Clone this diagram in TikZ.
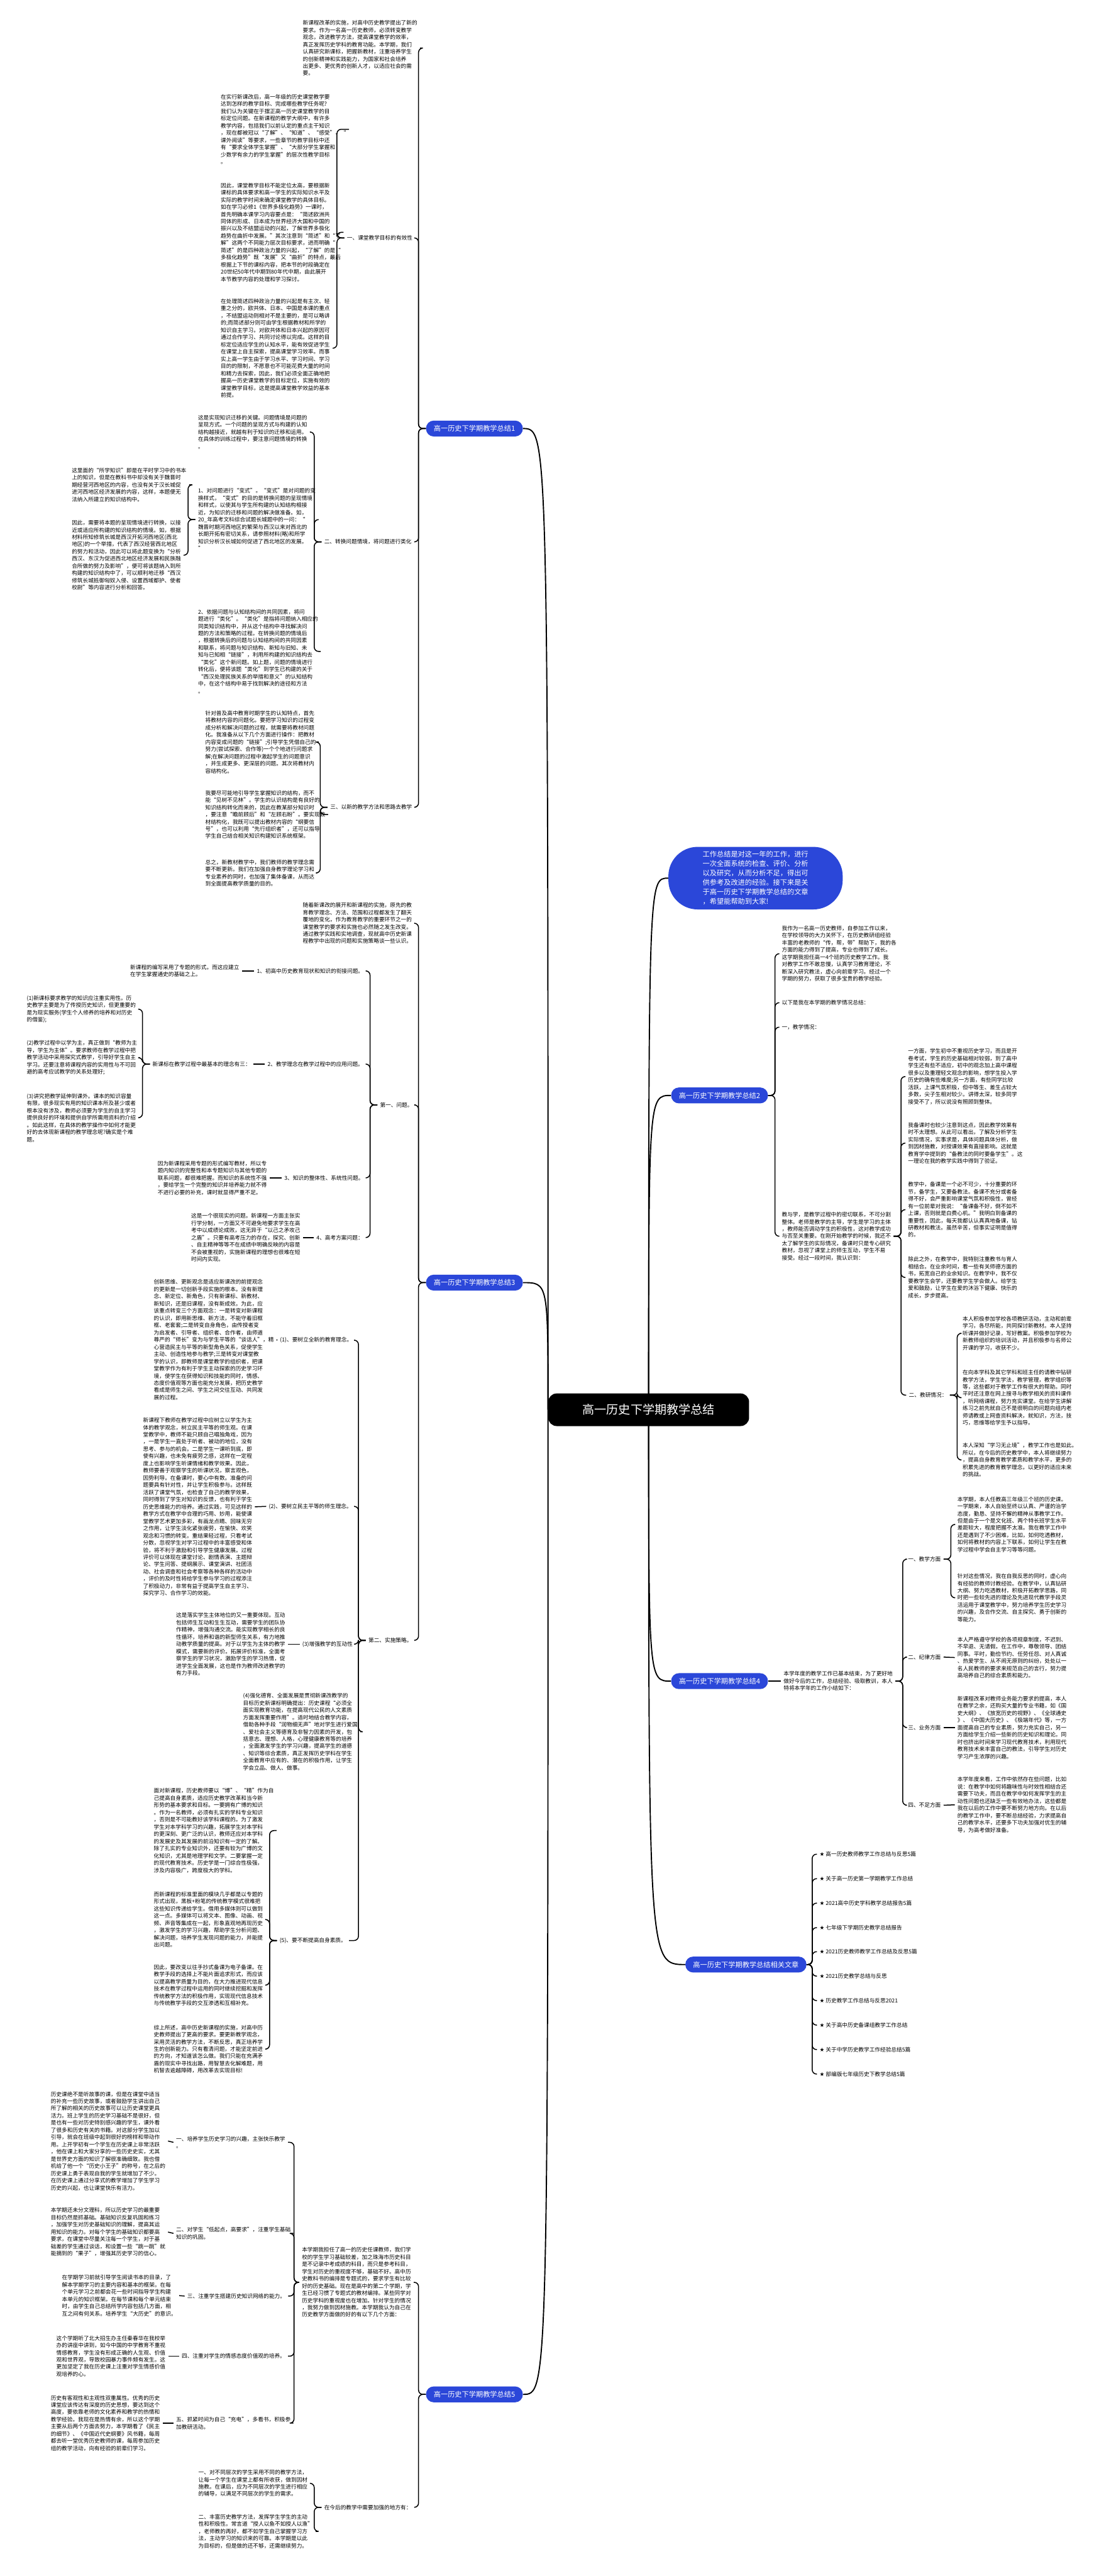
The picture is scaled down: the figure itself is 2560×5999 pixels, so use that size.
\documentclass[tikz,border=0pt]{standalone}
\usepackage{fontspec}
\newfontfamily\cjk{Noto Sans CJK SC}
\newfontfamily\starfont{DejaVu Sans}
\usetikzlibrary{backgrounds}
\definecolor{mapblue}{HTML}{2B47D9}
\newcommand{\starmark}{{\starfont ★}\ }

\begin{document}
\begin{tikzpicture}[x=0.5pt, y=-0.5pt,
  txt/.style={anchor=west, align=left, inner xsep=3pt, inner ysep=1pt, font=\cjk\fontsize{6.35}{8.4}\selectfont},
  branch/.style={anchor=west, fill=mapblue, text=white, rounded corners=9pt, inner xsep=9pt, minimum height=18.5pt, font=\cjk\fontsize{8.2}{10}\selectfont},
  root/.style={fill=black, text=white, rounded corners=10pt, inner xsep=40pt, minimum height=38pt, font=\cjk\fontsize{14}{16}\selectfont},
  intro/.style={fill=mapblue, text=white, rounded corners=34pt, inner xsep=40pt, inner ysep=5pt, align=left, font=\cjk\fontsize{8.2}{11}\selectfont},
  link/.style={line width=1.1pt, rounded corners=5pt},
  trunk/.style={line width=1.4pt}
]
\useasboundingbox (0,0) rectangle (2560,5999);

\node[root] (root) at (1511,3283) {高一历史下学期教学总结};
\node[intro] (intro) at (1760,2045) {工作总结是对这一年的工作，进行\\一次全面系统的检查、评价、分析\\以及研究，从而分析不足，得出可\\供参考及改进的经验。接下来是关\\于高一历史下学期教学总结的文章\\，希望能帮助到大家!};
\node[branch] (s1) at (992,998) {高一历史下学期教学总结1};
\node[branch] (s2) at (1563,2551) {高一历史下学期教学总结2};
\node[branch] (s3) at (992,2987) {高一历史下学期教学总结3};
\node[branch] (s4) at (1563,3915) {高一历史下学期教学总结4};
\node[branch] (s5) at (992,5576) {高一历史下学期教学总结5};
\node[branch, anchor=east] (rel) at (1879,4575) {高一历史下学期教学总结相关文章};

\node[txt] (s1i) at (699,112) {新课程改革的实施，对高中历史教学提出了新的\\要求。作为一名高一历史教师，必须转变教学\\观念，改进教学方法，提高课堂教学的效率，\\真正发挥历史学科的教育功能。本学期，我们\\认真研究新课标，把握新教材，注重培养学生\\的创新精神和实践能力，为国家和社会培养\\出更多、更优秀的创新人才，以适应社会的需\\要。};
\node[txt] (s1a) at (802,554) {一、课堂教学目标的有效性};
\node[txt] (s1a1) at (508,301) {在实行新课改后，高一年级的历史课堂教学要\\达到怎样的教学目标、完成哪些教学任务呢?\\我们认为关键在于摆正高一历史课堂教学的目\\标定位问题。在新课程的教学大纲中，有许多\\教学内容，包括我们以前认定的重点主干知识\\，现在都被冠以“了解”、“知道”、“感受”、“\\课外阅读”等要求，一些章节的教学目标中还\\有“要求全体学生掌握”、“大部分学生掌握和\\少数学有余力的学生掌握”的层次性教学目标\\。};
\node[txt] (s1a2) at (508,541) {因此，课堂教学目标不能定位太高，要根据新\\课标的具体要求和高一学生的实际知识水平及\\实际的教学时间来确定课堂教学的具体目标。\\如在学习必修1《世界多极化趋势》一课时，\\首先明确本课学习内容要点是：“简述欧洲共\\同体的形成、日本成为世界经济大国和中国的\\振兴以及不结盟运动的兴起，了解世界多极化\\趋势在曲折中发展。”其次注意到“简述”和“了\\解”这两个不同能力层次目标要求，进而明确“\\简述”的是四种政治力量的兴起，“了解”的是“\\多极化趋势”既“发展”又“曲折”的特点，最后\\根据上下节的课标内容，把本节的时段确定在\\20世纪50年代中期到80年代中期，由此展开\\本节教学内容的处理和学习探讨。};
\node[txt] (s1a3) at (508,811) {在处理简述四种政治力量的兴起是有主次、轻\\重之分的，欧共体、日本、中国是本课的重点\\，不结盟运动则相对不是主要的，是可以略讲\\的;而简述部分则可由学生根据教材和所学的\\知识自主学习。对欧共体和日本兴起的原因可\\通过合作学习、共同讨论得以完成。这样的目\\标定位适应学生的认知水平，能有效促进学生\\在课堂上自主探索，提高课堂学习效率。而事\\实上高一学生由于学习水平、学习时间、学习\\目的的限制，不愿意也不可能花费大量的时间\\和精力去探索，因此，我们必须全面正确地把\\握高一历史课堂教学的目标定位，实施有效的\\课堂教学目标，这是提高课堂教学效益的基本\\前提。};
\node[txt] (s1b) at (749,1262) {二、转换问题情境，将问题进行类化};
\node[txt] (s1b1) at (455,1006) {这是实现知识迁移的关键。问题情境是问题的\\呈现方式。一个问题的呈现方式与构建的认知\\结构越接近，就越有利于知识的迁移和运用。\\在具体的训练过程中，要注意问题情境的转换\\。};
\node[txt] (s1b2) at (455,1210) {1、对问题进行“变式”。“变式”是对问题的变\\换样式，“变式”的目的是转换问题的呈现情境\\和样式，以使其与学生所构建的认知结构相接\\近，为知识的迁移和问题的解决做准备。如，\\20\_年高考文科综合试题长城题中的一问：“\\魏晋时期河西地区的繁荣与西汉以来对西北的\\长期开拓有密切关系，请参照材料(略)和所学\\知识分析汉长城如何促进了西北地区的发展。\\”};
\node[txt] (s1b2a) at (161,1129) {这里面的“所学知识”即是在平时学习中的书本\\上的知识，但是在教科书中却没有关于魏晋时\\期经营河西地区的内容，也没有关于汉长城促\\进河西地区经济发展的内容，这样，本题便无\\法纳入所建立的知识结构中。};
\node[txt] (s1b2b) at (161,1293) {因此，需要将本题的呈现情境进行转换，以接\\近或适应所构建的知识结构的情境。如，根据\\材料所知修筑长城是西汉开拓河西地区(西北\\地区)的一个举措，代表了西汉经营西北地区\\的努力和活动，因此可以将此题变换为“分析\\西汉、东汉为促进西北地区经济发展和民族融\\合所做的努力及影响”，便可将该题纳入到所\\构建的知识结构中了，可以顺利地迁移“西汉\\修筑长城抵御匈奴入侵、设置西域都护、使者\\校尉”等内容进行分析和回答。};
\node[txt] (s1b3) at (455,1517) {2、依据问题与认知结构间的共同因素，将问\\题进行“类化”。“类化”是指将问题纳入相应的\\同类知识结构中，并从这个结构中寻找解决问\\题的方法和策略的过程。在转换问题的情境后\\，根据转换后的问题与认知结构间的共同因素\\和联系，将问题与知识结构、新知与旧知、未\\知与已知相“链接”，利用所构建的知识结构去\\“类化”这个新问题。如上题，问题的情境进行\\转化后，便将该题“类化”到学生已构建的关于\\“西汉处理民族关系的举措和意义”的认知结构\\中，在这个结构中易于找到解决的途径和方法\\。};
\node[txt] (s1c) at (763,1880) {三、以新的教学方法和思路去教学};
\node[txt] (s1c1) at (472,1728) {针对普及高中教育时期学生的认知特点，首先\\将教材内容的问题化。要把学习知识的过程变\\成分析和解决问题的过程，就需要将教材问题\\化。我准备从以下几个方面进行操作：把教材\\内容变成问题的“链接”;引导学生凭借自己的\\努力(尝试探索、合作等)一个个地进行问题求\\解;在解决问题的过程中激起学生的问题意识\\，并生成更多、更深层的问题。其次将教材内\\容结构化。};
\node[txt] (s1c2) at (472,1897) {我要尽可能地引导学生掌握知识的结构，而不\\能“见树不见林”。学生的认识结构是有良好的\\知识结构转化而来的，因此在教某部分知识时\\，要注意“瞻前顾后”和“左顾右盼”。要实现教\\材结构化，我既可以提出教材内容的“纲要信\\号”，也可以利用“先行组织者”，还可以指导\\学生自己结合相关知识构建知识系统框架。};
\node[txt] (s1c3) at (472,2033) {总之，新教材教学中，我们教师的教学理念需\\要不断更新。我们在加强自身教学理论学习和\\专业素养的同时，也加强了集体备课，从而达\\到全面提高教学质量的目的。};

\node[txt] (s3i) at (699,2150) {随着新课改的展开和新课程的实施，原先的教\\育教学理念、方法、范围和过程都发生了翻天\\覆地的变化，作为教育教学的重要环节之一的\\课堂教学的要求和实施也必然随之发生改变。\\通过教学实践和实地调查，现就高中历史新课\\程教学中出现的问题和实施策略谈一些认识。};
\node[txt] (s3a) at (879,2573) {第一、问题。};
\node[txt] (s3a1) at (592,2261) {1、初高中历史教育现状和知识的衔接问题。};
\node[txt] (s3a1a) at (297,2261) {新课程的编写采用了专题的形式。而这应建立\\在学生掌握通史的基础之上。};
\node[txt] (s3a2) at (617,2478) {2、教学理念在教学过程中的应用问题。};
\node[txt] (s3a2a) at (349,2478) {新课标在教学过程中最基本的理念有三：};
\node[txt] (s3a2a1) at (56,2350) {(1)新课标要求教学的知识应注重实用性。历\\史教学主要是为了传授历史知识，但更重要的\\是为现实服务(学生个人修养的培养和对历史\\的借鉴);};
\node[txt] (s3a2a2) at (56,2463) {(2)教学过程中以学为主，真正做到“教师为主\\导，学生为主体”。要求教师在教学过程中把\\教学活动中采用探究式教学，引导好学生自主\\学习。还要注意将课程内容的实用性与不可回\\避的高考应试教学的关系处理好;};
\node[txt] (s3a2a3) at (56,2603) {(3)讲究把教学延伸到课外。课本的知识容量\\有限，很多现实有用的知识课本所及甚少或者\\根本没有涉及，教师必须要为学生的自主学习\\提供良好的环境和提供自学所需用资料的介绍\\。如此这样，在具体的教学操作中如何才能更\\好的去体现新课程的教学理念呢?确实是个难\\题。};
\node[txt] (s3a3) at (656,2743) {3、知识的整体性、系统性问题。};
\node[txt] (s3a3a) at (361,2743) {因为新课程采用专题的形式编写教材，所以专\\题内知识的完整性和本专题知识与其他专题的\\联系问题，都很难把握。而知识的系统性不强\\，要给学生一个完整的知识并培养能力就不得\\不进行必要的补充，课时就显得严重不足。};
\node[txt] (s3a4) at (731,2882) {4、高考方案问题：};
\node[txt] (s3a4a) at (439,2882) {这是一个很现实的问题。新课程一方面主张实\\行学分制，一方面又不可避免地要求学生在高\\考中以成绩论成败，这无异于“以己之矛攻己\\之盾”。只要有高考压力的存在，探究、创新\\、自主精神等等不在成绩中明确反映的内容是\\不会被重视的，实施新课程的理想也很难在短\\时间内实现。};
\node[txt] (s3b) at (852,3820) {第二、实施策略。};
\node[txt] (s3b1) at (646,3121) {(1)、要树立全新的教育理念。};
\node[txt] (s3b1a) at (352,3120) {创新思维、更新观念是适应新课改的前提观念\\的更新是一切创新手段实施的根本。没有新理\\念、新定位、新角色，只有新课标、新教材、\\新知识，还是旧课程，没有新成效。为此，应\\该重点转变三个方面观念：一是转变对新课程\\的认识，即用新思维、新方法，不能守着旧框\\框、老套套;二是转变自身角色，由传授者变\\为启发者、引导者、组织者、合作者，由师道\\尊严的“师长”变为与学生平等的“谈话人”，精\\心营造民主与平等的新型角色关系，促使学生\\主动、创造性地参与教学;三是转变对课堂教\\学的认识，即教师是课堂教学的组织者，把课\\堂教学作为有利于学生主动探索的历史学习环\\境，使学生在获得知识和技能的同时，情感、\\态度价值观等方面也能充分发展，把历史教学\\看成是师生之间、学生之间交往互动、共同发\\展的过程。};
\node[txt] (s3b2) at (620,3508) {(2)、要树立民主平等的师生理念。};
\node[txt] (s3b2a) at (327,3509) {新课程下教师在教学过程中应树立以学生为主\\体的教学观念，树立民主平等的师生观。在课\\堂教学中，教师不能只顾自己唱独角戏，因为\\，一是学生一直处于听者、被动的地位，没有\\思考、参与的机会。二是学生一课听到底，即\\使有兴趣，也未免有疲劳之感，这样在一定程\\度上也影响学生听课情绪和教学效果。因此，\\教师要善于观察学生的听课状况，察言观色，\\因势利导。在备课时，要心中有数。准备的问\\题要具有针对性，并让学生积极参与。这样既\\活跃了课堂气氛，也检查了自己的教学效果，\\同时得到了学生对知识的反馈，也有利于学生\\历史思维能力的培养。通过实践，可见这样的\\教学方式在教学中合理的巧用、妙用，能使课\\堂教学艺术更加多彩，有画龙点睛、回味无穷\\之作用，让学生淡化紧张疲劳，在愉快、欢笑\\观念和习惯的转变。重结果轻过程，只看考试\\分数，忽视学生对学习过程中的丰富感受和体\\验，将不利于激励和引导学生健康发展。过程\\评价可以体现在课堂讨论、剧情表演、主题辩\\论、学生问答、提纲展示、课堂演讲、社团活\\动、社会调查和社会考察等各种各样的活动中\\，评价的及时性将给学生参与学习的过程添注\\了积极动力，非常有益于提高学生自主学习、\\探究学习、合作学习的效能。};
\node[txt] (s3b3) at (698,3829) {(3)增强教学的互动性};
\node[txt] (s3b3a) at (404,3829) {这是落实学生主体地位的又一重要体现。互动\\包括师生互动和生生互动，需要学生的团队协\\作精神，增强沟通交流。能实现教学相长的良\\性循环，培养和谐的新型师生关系，有力地推\\动教学质量的提高。对于以学生为主体的教学\\模式，需要新的评价。拓展评价标准，全面考\\察学生的学习状况，激励学生的学习热情，促\\进学生全面发展，这也是作为教师改进教学的\\有力手段。};
\node[txt] (s3b4) at (560,4033) {(4)强化德育、全面发展是贯彻新课改教学的\\目标历史新课标明确提出：历史课程“必须全\\面实现教育功能，在提高现代公民的人文素质\\方面发挥重要作用”。适时地结合教学内容，\\借助各种手段“润物细无声”地对学生进行爱国\\、爱社会主义等德育及非智力因素的开发，包\\括意志、理想、人格，心理健康教育等的培养\\，全面激发学生的学习兴趣，提高学生的道德\\、知识等综合素质，真正发挥历史学科在学生\\全面教育中应有的、潜在的积极作用，让学生\\学会立品、做人、做事。};
\node[txt] (s3b5) at (645,4519) {(5)、要不断提高自身素质。};
\node[txt] (s3b5a) at (352,4263) {面对新课程，历史教师要以“博”、“精”作为自\\己提高自身素质，适应历史教学改革和当今新\\形势的基本要求和目标。一要拥有广博的知识\\。作为一名教师，必须有扎实的学科专业知识\\，否则是不可能教好该学科课程的。为了激发\\学生对本学科学习的兴趣，拓展学生对本学科\\的更深刻、更广泛的认识，教师还应对本学科\\的发展史及其发展的前沿知识有一定的了解。\\除了扎实的专业知识外，还要有较为广博的文\\化知识，尤其是地理学和文学。二要掌握一定\\的现代教育技术。历史学是一门综合性极强，\\涉及内容极广，跨度极大的学科。};
\node[txt] (s3b5b) at (352,4470) {而新课程的标准里面的模块几乎都是以专题的\\形式出现，黑板+粉笔的传统教学模式很难把\\这些知识传递给学生。借用多媒体则可以做到\\这一点。多媒体可以将文本、图像、动画、视\\频、声音等集成在一起，形象直观地再现历史\\，激发学生的学习兴趣，帮助学生分析问题、\\解决问题，培养学生发现问题的能力，并能提\\出问题。};
\node[txt] (s3b5c) at (352,4623) {因此，要改变以往手抄式备课为电子备课。在\\教学手段的选择上不能片面追求形式，而应该\\以提高教学质量为目的，在大力推进现代信息\\技术在教学过程中运用的同时继续挖掘和发挥\\传统教学方法的积极作用，实现现代信息技术\\与传统教学手段的交互渗透和互相补充。};
\node[txt] (s3b5d) at (352,4772) {综上所述，高中历史新课程的实施，对高中历\\史教师提出了更高的要求。要更新教学观念，\\采用灵活的教学方法，不断反思，真正培养学\\生的创新能力。只有看清问题，才能坚定前进\\的方向，才知道该怎么做。我们只能在充满矛\\盾的现实中寻找出路，用智慧去化解难题，用\\机智去逾越障碍，用改革去实现目标!};

\node[txt] (s5a) at (697,5315) {本学期我担任了高一的历史任课教师，我们学\\校的学生学习基础较差，加之珠海市历史科目\\是不记录中考成绩的科目，而只是参考科目，\\学生对历史的重视度不够，基础不好。高中历\\史教科书的编排是专题式的，要求学生有比较\\好的历史基础。现在是高中的第二个学期，学\\生已经习惯了专题式的教材编排。某些同学对\\历史学科的重视度也在增加。针对学生的情况\\，我努力做到因材施教。本学期我认为自己在\\历史教学方面做的好的有以下几个方面：};
\node[txt] (s5a1) at (404,4989) {一、培养学生历史学习的兴趣，主张快乐教学\\。};
\node[txt] (t5a1) at (112,4986) {历史课绝不是听故事的课，但是在课堂中适当\\的补充一些历史故事，或者鼓励学生讲出自己\\所了解的相关的历史故事可以让历史课堂更具\\活力。班上学生的历史学习基础不是很好，但\\是也有一些对历史特别感兴趣的学生，课外看\\了很多和历史有关的书籍。对这部分学生加以\\引导，就会在班级中起到很好的榜样和带动作\\用。上开学初有一个学生在历史课上非常活跃\\，他在课上和大家分享的一些历史史实，尤其\\是世界史方面的知识了解很准确细致。我也借\\机给了他一个“历史小王子”的称号，在之后的\\历史课上勇于表现自我的学生就增加了不少。\\在历史课上通过分享式的教学增加了学生学习\\历史的兴起，也让课堂快乐有活力。};
\node[txt] (s5a2) at (404,5201) {二、对学生“低起点，高要求”，注重学生基础\\知识的巩固。};
\node[txt] (t5a2) at (112,5198) {本学期还未分文理科，所以历史学习的最重要\\目标仍然是抓基础。基础知识反复巩固和练习\\，加强学生对历史基础知识的理解，提高其运\\用知识的能力。对每个学生的基础知识都要高\\要求，在课堂中尽量关注每一个学生，对于基\\础差的学生通过谈话，和设置一些“跳一跳”就\\能摘到的“果子”，增强其历史学习的信心。};
\node[txt] (s5a3) at (430,5347) {三、注重学生搭建历史知识网络的能力。};
\node[txt] (t5a3) at (138,5346) {在学期学习前就引导学生阅读书本的目录，了\\解本学期学习的主要内容和基本的框架。在每\\个单元学习之前都会花一些时间指导学生构建\\本单元的知识框架。在每节课和每个单元结束\\时，由学生自己总结所学内容包括几方面，相\\互之间有何关系。培养学生“大历史”的意识。};
\node[txt] (s5a4) at (417,5487) {四、注重对学生的情感态度价值观的培养。};
\node[txt] (t5a4) at (125,5487) {这个学期听了北大招生办主任秦春华在我校举\\办的讲座中讲到，如今中国的中学教育不重视\\情感教育，学生没有形成正确的人生观、价值\\观和世界观，导致校园暴力事件频有发生。这\\更加坚定了我在历史课上注重对学生情感价值\\观培养的心。};
\node[txt] (s5a5) at (404,5643) {五、抓紧时间为自己“充电”，多看书，积极参\\加教研活动。};
\node[txt] (t5a5) at (112,5643) {历史有客观性和主观性双重属性。优秀的历史\\课堂应该传达有深度的历史思想，要达到这个\\高度，要依靠老师的文化素养和教学的热情和\\教学经验。我现在是热情有余，所以这个学期\\主要从后两个方面去努力，本学期看了《民主\\的细节》、《中国近代史纲要》风书籍，每周\\都去听一堂优秀历史教师的课，每周参加历史\\组的教学活动，向有经验的前辈们学习。};
\node[txt] (s5b) at (749,5839) {在今后的教学中需要加强的地方有：};
\node[txt] (s5b1) at (456,5783) {一、对不同层次的学生采用不同的教学方法，\\让每一个学生在课堂上都有所收获，做到因材\\施教。在课后，应为不同层次的学生进行相应\\的辅导，以满足不同层次的学生的需求。};
\node[txt] (s5b2) at (456,5895) {二、丰富历史教学方法，发挥学生学生的主动\\性和积极性。常言道“授人以鱼不如授人以渔”\\，老师教的再好，都不如学生自己掌握学习方\\法，主动学习的知识来的可靠。本学期是以此\\为目标的，但是做的还不够，还需继续努力。};

\node[txt] (s2a) at (1815,2221) {我作为一名高一历史教师，自参加工作以来，\\在学校领导的大力关怀下，在历史教研组经验\\丰富的老教师的“传，帮，带”帮助下，我的各\\方面的能力得到了提高，专业也得到了成长。\\这学期我担任高一4个班的历史教学工作。我\\对教学工作不敢怠慢，认真学习教育理论，不\\断深入研究教法，虚心向前辈学习。经过一个\\学期的努力，获取了很多宝贵的教学经验。};
\node[txt] (s2b) at (1815,2335) {以下是我在本学期的教学情况总结：};
\node[txt] (s2c) at (1815,2392) {一，教学情况：};
\node[txt] (s2d) at (1815,2879) {教与学，是教学过程中的密切联系，不可分割\\整体。老师是教学的主导，学生是学习的主体\\，教师能否调动学生的积极性，这对教学成功\\与否至关重要。在刚开始教学的时候，我还不\\太了解学生的实际情况，备课时只是专心研究\\教材，忽视了课堂上的师生互动，学生不易\\接受。经过一段时间，我认识到：};
\node[txt] (s2d1) at (2109,2507) {一方面，学生初中不重视历史学习，而且是开\\卷考试，学生的历史基础相对较弱，到了高中\\学生还有些不适应，初中的观念加上高中课程\\很多以及重理轻文观念的影响，想学生投入学\\历史的确有些难度;另一方面，有些同学比较\\活跃，上课气氛积极，但中等生、差生占较大\\多数，尖子生相对较少。讲得太深，较多同学\\接受不了，所以说没有照顾到整体。};
\node[txt] (s2d2) at (2109,2662) {我备课时也较少注意到这点，因此教学效果有\\时不太理想。从此可以看出，了解及分析学生\\实际情况，实事求是，具体问题具体分析，做\\到因材施教，对授课效果有直接影响。这就是\\教育学中提到的“备教法的同时要备学生”。这\\一理论在我的教学实践中得到了验证。};
\node[txt] (s2d3) at (2109,2817) {教学中，备课是一个必不可少，十分重要的环\\节，备学生，又要备教法。备课不充分或者备\\得不好，会严重影响课堂气氛和积极性，曾经\\有一位前辈对我说：“备课备不好，倒不如不\\上课，否则就是白费心机。”我明白到备课的\\重要性，因此，每天我都认认真真地备课，钻\\研教材和教法。虽然辛苦，但事实证明是值得\\的。};
\node[txt] (s2d4) at (2109,2975) {除此之外，在教学中，我特别注重教书与育人\\相结合。在业余时间，看一些有关师德方面的\\书，拓宽自己的业余知识。在教学中，我不仅\\要教学生会学，还要教学生学会做人。给学生\\爱和鼓励，让学生在爱的沐浴下健康、快乐的\\成长，步步提高。};
\node[txt] (s2d5) at (2111,3249) {二、教研情况：};
\node[txt] (s2d5a) at (2236,3105) {本人积极参加学校各项教研活动，主动和前辈\\学习，各尽所能，共同探讨新教材。本人坚持\\听课并做好记录，写好教案。积极参加学校为\\新教师组织的培训活动，并且积极参与名师公\\开课的学习，收获不少。};
\node[txt] (s2d5b) at (2236,3255) {在向本学科及其它学科和班主任的请教中钻研\\教学方法，学生学法，教学管理，教学组织等\\等，这些都对于教学工作有很大的帮助。同时\\平时还注意在网上搜寻与教学相关的资料课件\\，听网络课程，努力充实课堂。在给学生讲解\\练习之前先就自己不是很明白的问题向组内老\\师请教或上网查资料解决，就知识，方法，技\\巧，思维等给学生予以指导。};
\node[txt] (s2d5c) at (2236,3400) {本人深知“学习无止境”，教学工作也是如此。\\所以，在今后的历史教学中，本人将继续努力\\，提高自身教育教学素质和教学水平，更多的\\积累先进的教育教学理念，以更好的适应未来\\的挑战。};

\node[txt] (s4a) at (1819,3915) {本学年度的教学工作已基本结束，为了更好地\\做好今后的工作，总结经验、吸取教训，本人\\特将本学年的工作小结如下：};
\node[txt] (s4a1) at (2109,3631) {一、教学方面};
\node[txt] (s4a1a) at (2224,3550) {本学期，本人任教高三年级三个班的历史课。\\一学期来，本人自始至终以认真、严谨的治学\\态度，勤恳、坚持不懈的精神从事教学工作。\\但是由于一个是文化班、两个特长班学生水平\\差距较大，程度把握不太准。我在教学工作中\\还是遇到了不少困难，比如，如何吃透教材，\\如何将教材的内容上下联系，如何让学生在教\\学过程中学会自主学习等等问题。};
\node[txt] (s4a1b) at (2224,3721) {针对这些情况，我在自我反思的同时，虚心向\\有经验的教师讨教经验。在教学中，认真钻研\\大纲、努力吃透教材，积极开拓教学思路，同\\时把一些较先进的理论及先进现代教学手段灵\\活运用于课堂教学中，努力培养学生历史学习\\的兴趣，及合作交流、自主探究、勇于创新的\\等能力。};
\node[txt] (s4a2) at (2109,3859) {二、纪律方面};
\node[txt] (s4a2a) at (2224,3860) {本人严格遵守学校的各项规章制度，不迟到、\\不早退、无请假。在工作中，尊敬领导、团结\\同事。平时，勤俭节约、任劳任怨、对人真诚\\、热爱学生、从不闹无原则的纠纷，处处以一\\名人民教师的要求来规范自己的言行，努力提\\高培养自己的综合素质和能力。};
\node[txt] (s4a3) at (2109,4023) {三、业务方面};
\node[txt] (s4a3a) at (2224,4023) {新课程改革对教师业务能力要求的提高，本人\\在教学之余，还购买大量的专业书籍，如《国\\史大纲》、《放宽历史的视野》、《全球通史\\》、《中国大历史》、《极端年代》等，一方\\面提高自己的专业素质，努力充实自己，另一\\方面给学生介绍一些新的历史知识和理论。同\\时也挤出时间来学习现代教育技术，利用现代\\教育技术来丰富自己的教法，引导学生对历史\\学习产生浓厚的兴趣。};
\node[txt] (s4a4) at (2109,4204) {四、不足方面};
\node[txt] (s4a4a) at (2224,4203) {本学年度来看，工作中依然存在些问题，比如\\说：在教学中如何将趣味性与时效性相结合还\\需要下功夫，而且在教学中如何发挥学生的主\\动性问题也还缺乏一些有效地办法，这些都是\\我在以后的工作中要不断努力地方向。在以后\\的教学工作中，要不断总结经验，力求提高自\\己的教学水平，还要多下功夫加强对优生的辅\\导，为高考做好准备。};

\node[txt] (r1) at (1903,4318) {\starmark 高一历史教师教学工作总结与反思5篇};
\node[txt] (r2) at (1903,4375) {\starmark 关于高一历史第一学期教学工作总结};
\node[txt] (r3) at (1903,4432) {\starmark 2021高中历史学科教学总结报告5篇};
\node[txt] (r4) at (1903,4489) {\starmark 七年级下学期历史教学总结报告};
\node[txt] (r5) at (1903,4545) {\starmark 2021历史教师教学工作总结及反思5篇};
\node[txt] (r6) at (1903,4602) {\starmark 2021历史教学总结与反思};
\node[txt] (r7) at (1903,4659) {\starmark 历史教学工作总结与反思2021};
\node[txt] (r8) at (1903,4716) {\starmark 关于高中历史备课组教学工作总结};
\node[txt] (r9) at (1903,4773) {\starmark 关于中学历史教学工作经验总结5篇};
\node[txt] (r10) at (1903,4830) {\starmark 部编版七年级历史下教学总结5篇};

\begin{scope}[on background layer]
\fill[white] (0,0) rectangle (2560,5999);
\foreach \s in {s1,s3,s5} \draw[trunk] (root.west) .. controls (root.west |- \s.east) .. (\s.east);
\foreach \s in {intro,s2,s4,rel} \draw[trunk] (root.center) .. controls (root.center |- \s.west) .. (\s.west);
\foreach \c in {s1i,s1a,s1b,s1c} \draw[link] (s1.west) -- ++(-17,0) |- (\c.east);
\foreach \c in {s1a1,s1a2,s1a3} \draw[link] (s1a.west) -- ++(-17,0) |- (\c.east);
\foreach \c in {s1b1,s1b2,s1b3} \draw[link] (s1b.west) -- ++(-17,0) |- (\c.east);
\foreach \c in {s1b2a,s1b2b} \draw[link] (s1b2.west) -- ++(-17,0) |- (\c.east);
\foreach \c in {s1c1,s1c2,s1c3} \draw[link] (s1c.west) -- ++(-17,0) |- (\c.east);
\foreach \c in {s3i,s3a,s3b} \draw[link] (s3.west) -- ++(-17,0) |- (\c.east);
\foreach \c in {s3a1,s3a2,s3a3,s3a4} \draw[link] (s3a.west) -- ++(-17,0) |- (\c.east);
\foreach \c in {s3a2a1,s3a2a2,s3a2a3} \draw[link] (s3a2a.west) -- ++(-17,0) |- (\c.east);
\foreach \c in {s3b1,s3b2,s3b3,s3b4,s3b5} \draw[link] (s3b.west) -- ++(-17,0) |- (\c.east);
\foreach \c in {s3b5a,s3b5b,s3b5c,s3b5d} \draw[link] (s3b5.west) -- ++(-17,0) |- (\c.east);
\foreach \a/\b in {s3a1/s3a1a,s3a2/s3a2a,s3a3/s3a3a,s3a4/s3a4a,s3b1/s3b1a,s3b2/s3b2a,s3b3/s3b3a} \draw[link] (\a.west) -- (\b.east);
\foreach \c in {s5a,s5b} \draw[link] (s5.west) -- ++(-17,0) |- (\c.east);
\foreach \c in {s5a1,s5a2,s5a3,s5a4,s5a5} \draw[link] (s5a.west) -- ++(-12,0) |- (\c.east);
\foreach \i in {1,...,5} \draw[link] (s5a\i.west) -- (t5a\i.east);
\foreach \c in {s5b1,s5b2} \draw[link] (s5b.west) -- ++(-17,0) |- (\c.east);
\foreach \c in {s2a,s2b,s2c,s2d} \draw[link] (s2.east) -- ++(16,0) |- (\c.west);
\foreach \c in {s2d1,s2d2,s2d3,s2d4,s2d5} \draw[link] (s2d.east) -- ++(17,0) |- (\c.west);
\foreach \c in {s2d5a,s2d5b,s2d5c} \draw[link] (s2d5.east) -- ++(17,0) |- (\c.west);
\draw[link] (s4.east) -- (s4a.west);
\foreach \c in {s4a1,s4a2,s4a3,s4a4} \draw[link] (s4a.east) -- ++(17,0) |- (\c.west);
\foreach \c in {s4a1a,s4a1b} \draw[link] (s4a1.east) -- ++(17,0) |- (\c.west);
\foreach \i in {2,3,4} \draw[link] (s4a\i.east) -- (s4a\i a.west);
\foreach \i in {1,...,10} \draw[link] (rel.east) -- ++(13,0) |- (r\i.west);
\end{scope}
\end{tikzpicture}
\end{document}
